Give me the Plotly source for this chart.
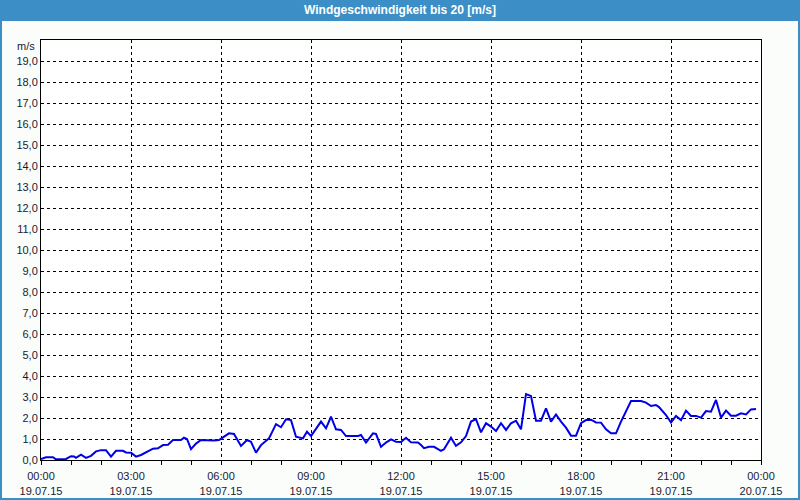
import plotly.graph_objects as go
import pandas as pd

# minutes after 19.07.15 00:00
minutes = [0, 10, 24, 30, 50, 60, 66, 70, 80, 90, 100, 110, 120, 130, 140, 150, 164, 170, 180, 190,
           200, 214, 224, 234, 244, 254, 264, 280, 286, 292, 300, 310, 320, 346, 356, 364, 376, 386, 394,
           400, 412, 420, 430, 440, 456, 470, 480, 490, 500, 510, 524, 532, 540, 550, 560, 570, 580, 590,
           600, 610, 634, 640, 650, 664, 670, 680, 690, 700, 710, 720, 730, 740, 754, 760, 766, 776, 786,
           800, 806, 820, 830, 840, 850, 860, 870, 880, 890, 900, 910, 920, 930, 940, 950, 960, 970, 980,
           990, 1000, 1010, 1020, 1030, 1040, 1050, 1060, 1070, 1080, 1090, 1100, 1110, 1120, 1130, 1140,
           1150, 1160, 1170, 1180, 1200, 1210, 1220, 1230, 1236, 1250, 1260, 1270, 1280, 1290, 1300, 1310,
           1320, 1330, 1340, 1350, 1360, 1370, 1380, 1390, 1400, 1410, 1420, 1430]
speed = [0.05, 0.13, 0.13, 0.03, 0.05, 0.18, 0.17, 0.10, 0.25, 0.10, 0.20, 0.41, 0.47, 0.47, 0.16, 0.44, 0.44, 0.36, 0.35, 0.16,
         0.24, 0.41, 0.54, 0.56, 0.71, 0.73, 0.95, 0.95, 1.06, 1.00, 0.52, 0.78, 0.95, 0.93, 0.95, 1.08, 1.27, 1.24, 0.95,
         0.67, 0.95, 0.87, 0.35, 0.71, 1.03, 1.71, 1.56, 1.94, 1.90, 1.11, 1.03, 1.35, 1.14, 1.51, 1.83, 1.51, 2.06, 1.46,
         1.43, 1.14, 1.14, 1.19, 0.83, 1.27, 1.24, 0.63, 0.83, 0.98, 0.87, 0.86, 1.06, 0.84, 0.83, 0.71, 0.56, 0.63, 0.63,
         0.44, 0.51, 1.06, 0.67, 0.84, 1.14, 1.83, 1.95, 1.32, 1.75, 1.59, 1.38, 1.75, 1.43, 1.75, 1.87, 1.46, 3.14, 3.05,
         1.87, 1.87, 2.46, 1.83, 2.17, 1.83, 1.54, 1.16, 1.16, 1.75, 1.90, 1.92, 1.79, 1.78, 1.46, 1.27,
         1.27, 1.83, 2.35, 2.81, 2.81, 2.73, 2.57, 2.62, 2.52, 2.14, 1.78, 2.10, 1.90, 2.35, 2.10, 2.10,
         2.02, 2.33, 2.30, 2.86, 2.02, 2.35, 2.11, 2.11, 2.22, 2.17, 2.41, 2.43]

title_text = "Windgeschwindigkeit bis 20 [m/s]"
unit_label = "m/s"
y_ticks = list(range(0, 20))

start = pd.Timestamp("2015-07-19 00:00")
times = [start + pd.Timedelta(minutes=m) for m in minutes]

W, H = 800, 500
L, R, T, B = 41, 39, 40, 40
pw, ph = W - L - R, H - T - B

def px_x(p):
    return (p - L) / pw

def px_y(p):
    return (H - B - p) / ph

fig = go.Figure()
fig.add_trace(go.Scatter(x=times, y=speed, mode="lines",
                         line=dict(color="#0000e6", width=2), hoverinfo="skip"))

font_fam = "Liberation Sans"
txt_col = "#1a1a33"
fig.update_layout(
    width=W, height=H,
    margin=dict(l=L, r=R, t=T, b=B, autoexpand=False),
    paper_bgcolor="#fbfdfb",
    plot_bgcolor="#ffffff",
    separators=",.",
    showlegend=False,
    font=dict(family=font_fam, size=11, color=txt_col),
    xaxis=dict(
        range=[start, start + pd.Timedelta(hours=24)],
        dtick=3 * 3600000, tick0=start,
        tickformat="%H:%M<br>%d.%m.%y",
        showgrid=True, gridcolor="#000000", gridwidth=1, griddash="3px,3px",
        showline=True, linecolor="#000000", linewidth=1, mirror=True,
        ticks="outside", ticklen=4, tickcolor="#000000", ticklabelstandoff=2,
        zeroline=False, automargin=False,
        minor=dict(dtick=3600000, tick0=start, ticks="outside", ticklen=4,
                   tickcolor="#000000", showgrid=False),
        tickfont=dict(family=font_fam, size=11, color=txt_col),
    ),
    yaxis=dict(
        range=[0, 20],
        tickvals=y_ticks,
        tickformat=".1f",
        showgrid=True, gridcolor="#000000", gridwidth=1, griddash="3px,3px",
        showline=True, linecolor="#000000", linewidth=1, mirror=True,
        ticks="", zeroline=False, automargin=False,
        tickfont=dict(family=font_fam, size=11, color=txt_col),
    ),
    shapes=[
        dict(type="rect", xref="paper", yref="paper", layer="below",
             x0=px_x(0), x1=px_x(W), y0=px_y(20), y1=px_y(0),
             fillcolor="#3b8fc6", line=dict(width=0)),
        dict(type="rect", xref="paper", yref="paper", layer="above",
             x0=px_x(1), x1=px_x(W - 1), y0=px_y(H - 1), y1=px_y(20),
             fillcolor="rgba(0,0,0,0)", line=dict(color="#3b8fc6", width=2)),
    ],
    annotations=[
        dict(text="<b>" + title_text + "</b>", xref="paper", yref="paper",
             x=px_x(W / 2), y=px_y(10), xanchor="center", yanchor="middle",
             showarrow=False, font=dict(family=font_fam, size=12, color="#ffffff")),
        dict(text=unit_label, xref="paper", yref="paper",
             x=px_x(37), y=px_y(46), xanchor="right", yanchor="middle",
             showarrow=False, font=dict(family=font_fam, size=11, color=txt_col)),
    ],
)

fig.write_html("out.html",
               config={"displayModeBar": False},
               post_script="document.body.style.margin='0';document.body.style.overflow='hidden';")
